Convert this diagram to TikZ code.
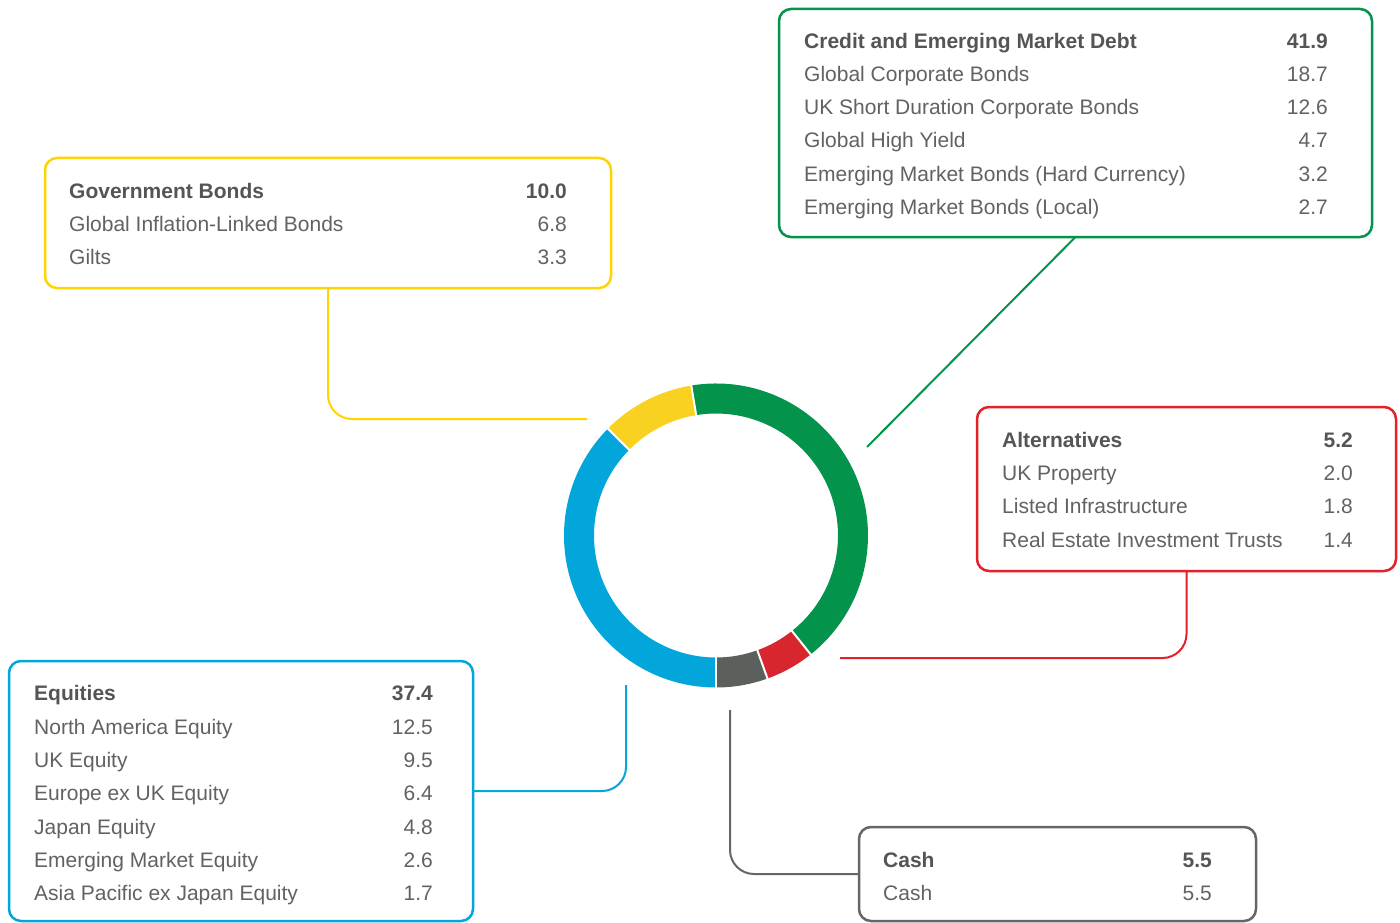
\documentclass[tikz,border=0pt]{standalone}
\usepackage{fontspec}
\setmainfont{Liberation Sans}
\definecolor{cgreen}{HTML}{03934A}
\definecolor{cyellow}{HTML}{F9D121}
\definecolor{cyellowb}{HTML}{FFD400}
\definecolor{cblue}{HTML}{03A6DB}
\definecolor{cred}{HTML}{D7262E}
\definecolor{credb}{HTML}{E42128}
\definecolor{cgray}{HTML}{5B605C}
\definecolor{cgrayb}{HTML}{666666}
\definecolor{ctext}{HTML}{616264}
\definecolor{chead}{HTML}{545557}
\newcommand\arow[6]{%
  \node[lbl, anchor=base west] (#1l) at (#2,#4) {#5};
  \node[lbl, anchor=base east] (#1v) at (#3,#4) {#6};}
\newcommand\hrow[6]{%
  \node[hlbl, anchor=base west] (#1l) at (#2,#4) {#5};
  \node[hlbl, anchor=base east] (#1v) at (#3,#4) {#6};}
\begin{document}
\begin{tikzpicture}[x=1pt,y=-1pt,
  panel/.style={draw=#1, line width=2.5pt, rounded corners=12pt, inner sep=0pt, outer sep=0pt, rectangle},
  conn/.style={draw=#1, line width=2pt, rounded corners=24pt},
  lbl/.style={inner sep=0pt, text=ctext, font=\fontsize{21}{25}\selectfont},
  hlbl/.style={inner sep=0pt, text=chead, font=\fontsize{21}{25}\selectfont\bfseries}]
\useasboundingbox[fill=white] (0,0) rectangle (1400,923);

% ring
\begin{scope}[shift={(716,535.5)}]
  \def\Ro{152pt}\def\Ri{122pt}
  \fill[cgreen] (99.36:\Ro) arc[start angle=99.36, end angle=-51.48, radius=\Ro] -- (-51.48:\Ri) arc[start angle=-51.48, end angle=99.36, radius=\Ri] -- cycle;
  \fill[cred] (-51.48:\Ro) arc[start angle=-51.48, end angle=-70.2, radius=\Ro] -- (-70.2:\Ri) arc[start angle=-70.2, end angle=-51.48, radius=\Ri] -- cycle;
  \fill[cgray] (-70.2:\Ro) arc[start angle=-70.2, end angle=-90, radius=\Ro] -- (-90:\Ri) arc[start angle=-90, end angle=-70.2, radius=\Ri] -- cycle;
  \fill[cblue] (-90:\Ro) arc[start angle=-90, end angle=-224.64, radius=\Ro] -- (-224.64:\Ri) arc[start angle=-224.64, end angle=-90, radius=\Ri] -- cycle;
  \fill[cyellow] (-224.64:\Ro) arc[start angle=-224.64, end angle=-260.64, radius=\Ro] -- (-260.64:\Ri) arc[start angle=-260.64, end angle=-224.64, radius=\Ri] -- cycle;
  \foreach \a in {99.36,-51.48,-70.2,-90,-224.64}
    \draw[white, line width=2pt] (\a:120pt) -- (\a:154pt);
\end{scope}

% panels
\node[panel=cyellowb, minimum width=566pt, minimum height=130pt] (gov) at (328,223) {};
\node[panel=cgreen, minimum width=593pt, minimum height=228pt] (credit) at (1075.5,123) {};
\node[panel=credb, minimum width=419pt, minimum height=164pt] (alt) at (1186.5,489) {};
\node[panel=cblue, minimum width=464pt, minimum height=260pt] (eq) at (241,791) {};
\node[panel=cgrayb, minimum width=397pt, minimum height=94pt] (cash) at (1057.5,874) {};

% connector ends
\coordinate (yend) at (587,419);
\coordinate (gend) at (867,447);
\coordinate (rend) at (840,658);
\coordinate (bstart) at (626,685);
\coordinate (gstart) at (730,710);

\draw[conn=cyellowb] (gov.south) |- (yend);
\draw[conn=cgreen] (credit.south) -- (gend);
\draw[conn=credb] (alt.south) |- (rend);
\draw[conn=cblue] (bstart) |- (eq.east);
\draw[conn=cgrayb] (gstart) |- (cash.west);

% Government Bonds
\hrow{g0}{69}{567}{198.5}{Government Bonds}{10.0}
\arow{g1}{69}{567}{231.5}{Global Inflation-Linked Bonds}{6.8}
\arow{g2}{69}{567}{264.5}{Gilts}{3.3}

% Credit
\hrow{c0}{804}{1328}{48.5}{Credit and Emerging Market Debt}{41.9}
\arow{c1}{804}{1328}{81.5}{Global Corporate Bonds}{18.7}
\arow{c2}{804}{1328}{114.5}{UK Short Duration Corporate Bonds}{12.6}
\arow{c3}{804}{1328}{147.5}{Global High Yield}{4.7}
\arow{c4}{804}{1328}{181}{Emerging Market Bonds (Hard Currency)}{3.2}
\arow{c5}{804}{1328}{214}{Emerging Market Bonds (Local)}{2.7}

% Alternatives
\hrow{a0}{1002}{1353}{447.5}{Alternatives}{5.2}
\arow{a1}{1002}{1353}{480.5}{UK Property}{2.0}
\arow{a2}{1002}{1353}{513.5}{Listed Infrastructure}{1.8}
\arow{a3}{1002}{1353}{547}{Real Estate Investment Trusts}{1.4}

% Equities
\hrow{e0}{34}{433}{700.5}{Equities}{37.4}
\arow{e1}{34}{433}{734}{North America Equity}{12.5}
\arow{e2}{34}{433}{767}{UK Equity}{9.5}
\arow{e3}{34}{433}{800.5}{Europe ex UK Equity}{6.4}
\arow{e4}{34}{433}{834}{Japan Equity}{4.8}
\arow{e5}{34}{433}{867}{Emerging Market Equity}{2.6}
\arow{e6}{34}{433}{900.5}{Asia Pacific ex Japan Equity}{1.7}

% Cash
\hrow{k0}{883}{1212}{867.5}{Cash}{5.5}
\arow{k1}{883}{1212}{900.5}{Cash}{5.5}
\end{tikzpicture}
\end{document}
